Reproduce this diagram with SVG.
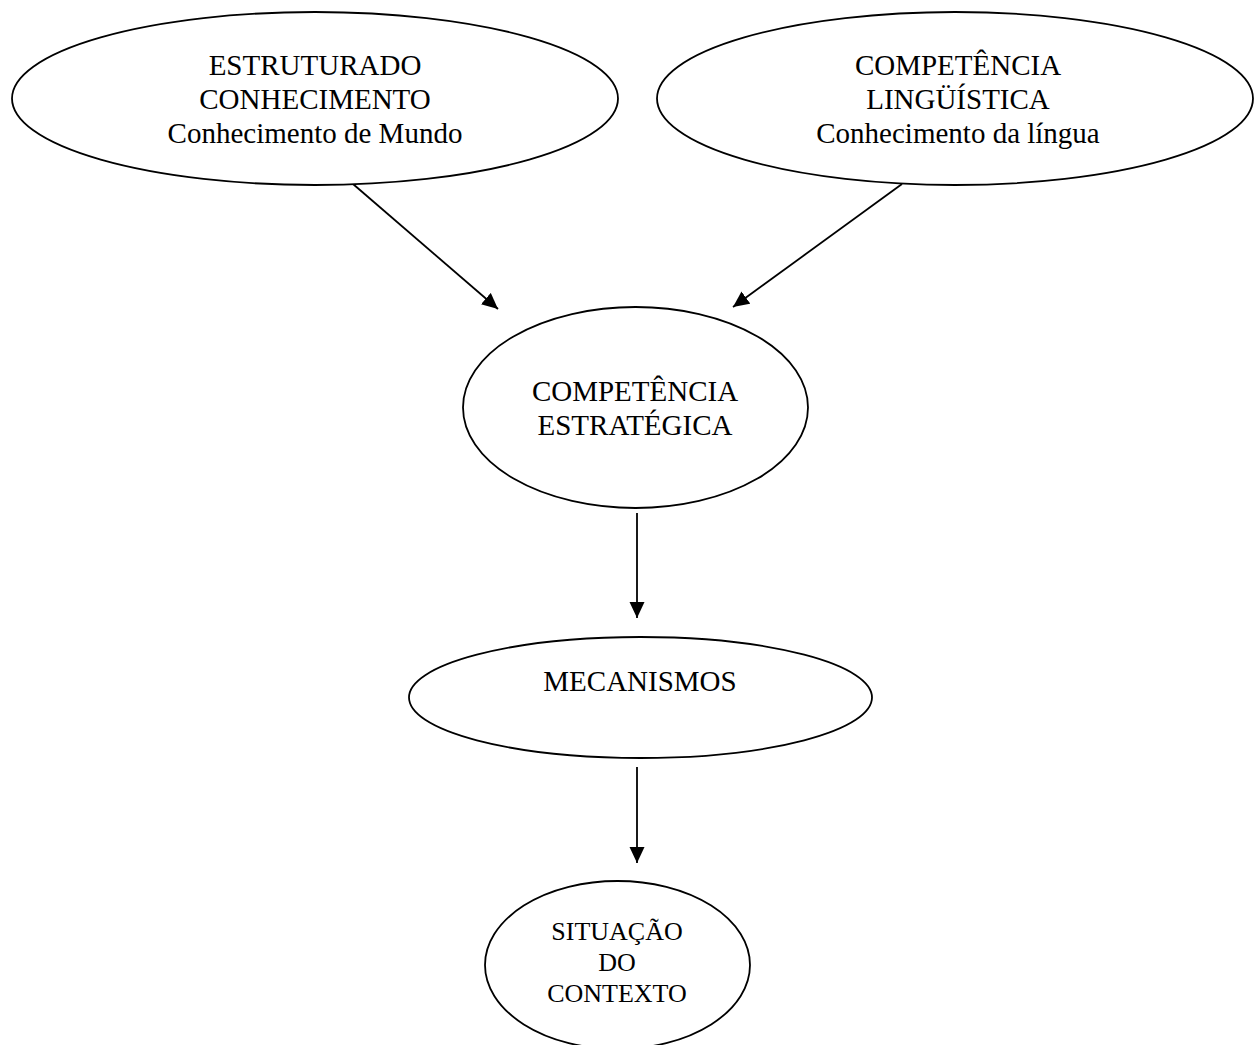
<svg xmlns="http://www.w3.org/2000/svg" width="1254" height="1045" viewBox="0 0 1254 1045">
  <style>
    .node ellipse { fill: #ffffff; stroke: #000000; stroke-width: 1.8; }
    .node text { font-family: "Liberation Serif", "Times New Roman", serif; font-size: 29px; fill: #000000; text-anchor: middle; }
    .node.small text { font-size: 26px; }
    .edge { stroke: #000000; stroke-width: 1.8; fill: none; marker-end: url(#arrow); }
  </style>
  <defs>
    <marker id="arrow" markerUnits="userSpaceOnUse" markerWidth="17" markerHeight="16" refX="16" refY="8" orient="auto">
      <path d="M0,0.5 L16,8 L0,15.5 Z" fill="#000000"/>
    </marker>
  </defs>
  <rect width="1254" height="1045" fill="#ffffff"/>

  <g id="connectors">
    <line class="edge" x1="353" y1="184" x2="498" y2="309"/>
    <line class="edge" x1="902" y1="184" x2="733" y2="307"/>
    <line class="edge" x1="637" y1="513" x2="637" y2="618"/>
    <line class="edge" x1="637" y1="767" x2="637" y2="863"/>
  </g>

  <g id="node-conhecimento-mundo" class="node">
    <ellipse cx="315" cy="98.5" rx="303" ry="86.5"/>
    <text x="315" y="75">ESTRUTURADO</text>
    <text x="315" y="109">CONHECIMENTO</text>
    <text x="315" y="143">Conhecimento de Mundo</text>
  </g>

  <g id="node-competencia-linguistica" class="node">
    <ellipse cx="955" cy="98.5" rx="298" ry="86.5"/>
    <text x="958" y="75">COMPETÊNCIA</text>
    <text x="958" y="109">LINGÜÍSTICA</text>
    <text x="958" y="143">Conhecimento da língua</text>
  </g>

  <g id="node-competencia-estrategica" class="node">
    <ellipse cx="635.5" cy="407.5" rx="172.5" ry="100.5"/>
    <text x="635" y="401">COMPETÊNCIA</text>
    <text x="635" y="435">ESTRATÉGICA</text>
  </g>

  <g id="node-mecanismos" class="node">
    <ellipse cx="640.5" cy="697.5" rx="231.5" ry="60.5"/>
    <text x="640" y="691">MECANISMOS</text>
  </g>

  <g id="node-situacao-contexto" class="node small">
    <ellipse cx="617.5" cy="965" rx="132.5" ry="84"/>
    <text x="617" y="940">SITUAÇÃO</text>
    <text x="617" y="971">DO</text>
    <text x="617" y="1002">CONTEXTO</text>
  </g>
</svg>
